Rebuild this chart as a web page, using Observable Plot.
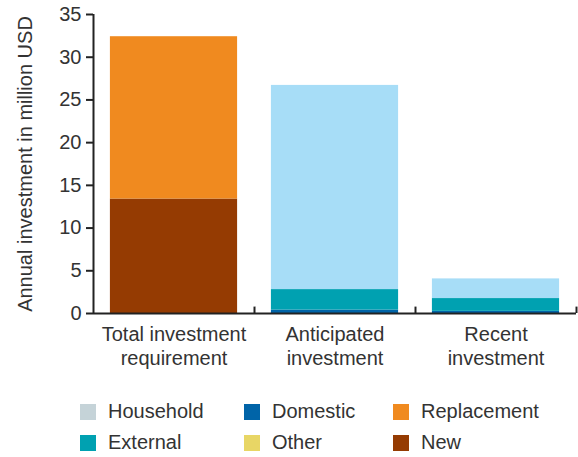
<!DOCTYPE html>
<html><head><meta charset="utf-8">
<script src="https://cdn.jsdelivr.net/npm/d3@7"></script>
<script src="https://cdn.jsdelivr.net/npm/@observablehq/plot@0.6"></script>
<style>
body{margin:0;background:#fff;font-family:"Liberation Sans",Arial,Helvetica,sans-serif;}
#legend{display:grid;grid-template-columns:164px 149px 180px;padding-left:80px;margin-top:6px;}
.item{display:flex;align-items:center;height:31px;font-size:20px;color:#333;white-space:nowrap;}
.sw{width:16px;height:16px;margin-right:12px;flex:none;}
</style></head>
<body><div id="chart"></div><div id="legend"></div>
<script>
const categories = ["Total investment requirement", "Anticipated investment", "Recent investment"];
const categoryLabels = ["Total investment\nrequirement", "Anticipated\ninvestment", "Recent\ninvestment"];
const series = ["New", "Replacement", "Domestic", "External", "Other", "Household"];
const barColors = ["#953b02", "#f08a1f", "#0064a8", "#00a1b1", "#e8d665", "#a7ddf7"];
const legendNames = ["Household", "Domestic", "Replacement", "External", "Other", "New"];
const legendColors = ["#c5d3d8", "#0064a8", "#f08a1f", "#00a1b1", "#e8d665", "#953b02"];
const newVals = [13.4, 0, 0];
const replacementVals = [19.0, 0, 0];
const domesticVals = [0, 0.4, 0.25];
const externalVals = [0, 2.4, 1.5];
const otherVals = [0, 0, 0];
const householdVals = [0, 23.9, 2.3];
const yTicks = [0, 5, 10, 15, 20, 25, 30, 35];

const valsBySeries = [newVals, replacementVals, domesticVals, externalVals, otherVals, householdVals];
const data = [];
series.forEach((s, si) => categories.forEach((c, ci) => data.push({cat: c, series: s, value: valsBySeries[si][ci]})));

const W = 578, H = 390, mL = 93, mR = 2, mT = 14, mB = 77;
const pInner = 0.21, pOuter = 0.105;
const step = (W - mL - mR) / (categories.length - pInner + 2 * pOuter);
const ink = "#222";
const font = '"Liberation Sans",Arial,Helvetica,sans-serif';

const chart = Plot.plot({
  width: W, height: H, marginLeft: mL, marginRight: mR, marginTop: mT, marginBottom: mB,
  style: {fontFamily: font, fontSize: "20px", color: "#333", background: "#fff"},
  x: {domain: categories, paddingInner: pInner, paddingOuter: pOuter, round: false, axis: null},
  y: {domain: [0, 35], axis: null},
  color: {domain: series, range: barColors},
  marks: [
    Plot.barY(data, {x: "cat", y: "value", fill: "series", order: series}),
    Plot.axisY({ticks: yTicks, tickSize: 7, tickPadding: 5, fontSize: 20, stroke: ink, strokeWidth: 2, label: null, fill: "#333"}),
    Plot.ruleX([categories[0]], {x: d => d, y1: 0, y2: 35, dx: -step / 2, stroke: ink, strokeWidth: 2}),
    Plot.ruleY([0], {stroke: ink, strokeWidth: 2}),
    Plot.ruleX(categories, {x: d => d, y1: 0, y2: 0.75, dx: step / 2, stroke: ink, strokeWidth: 2}),
    Plot.text(categories, {x: d => d, y: 0, text: (d, i) => categoryLabels[i], dy: 10, lineAnchor: "top", lineHeight: 1.2, fontSize: 20, fill: "#333"}),
    Plot.text(["Annual investment in million USD"], {frameAnchor: "left", textAnchor: "middle", dx: -68, rotate: -90, fontSize: 20, fill: "#333"})
  ]
});
document.getElementById("chart").appendChild(chart);

const leg = document.getElementById("legend");
legendNames.forEach((n, i) => {
  const it = document.createElement("div"); it.className = "item";
  const sw = document.createElement("span"); sw.className = "sw"; sw.style.background = legendColors[i];
  it.appendChild(sw); it.appendChild(document.createTextNode(n)); leg.appendChild(it);
});
</script></body></html>
